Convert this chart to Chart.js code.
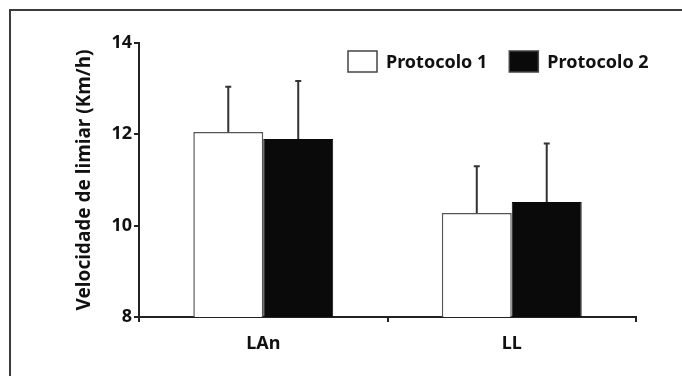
<!DOCTYPE html>
<html>
<head>
<meta charset="utf-8">
<script src="https://cdn.jsdelivr.net/npm/chart.js@4/dist/chart.umd.min.js"></script>
<style>
  html, body { margin: 0; padding: 0; background: #fff; overflow: hidden; }
  #wrap { position: relative; width: 682px; height: 376px; }
  #moldura {
    position: absolute; left: 9px; top: 9px; width: 700px; height: 400px;
    border-left: 2px solid #3c3c3c; border-top: 2px solid #3c3c3c;
    pointer-events: none;
  }
</style>
</head>
<body>
<div id="wrap">
  <canvas id="grafico" width="682" height="376"></canvas>
  <div id="moldura"></div>
</div>
<script>
  const categorias = ["LAn", "LL"];
  const protocolo1 = [12.05, 10.28];
  const protocolo2 = [11.90, 10.52];
  const dp1 = [0.99, 1.02];
  const dp2 = [1.27, 1.28];
  const ticksY = [8, 10, 12, 14];

  const fonte = "'Noto Sans', 'Open Sans', sans-serif";

  // barras de erro (so para cima)
  const barrasErro = {
    id: "barrasErro",
    afterDatasetsDraw(chart) {
      const ctx = chart.ctx;
      const y = chart.scales.y;
      chart.data.datasets.forEach((ds, i) => {
        const meta = chart.getDatasetMeta(i);
        meta.data.forEach((bar, j) => {
          const topo = y.getPixelForValue(ds.data[j] + ds.erros[j]);
          ctx.save();
          ctx.strokeStyle = "#333";
          ctx.lineWidth = 2;
          ctx.beginPath();
          ctx.moveTo(bar.x, bar.y);
          ctx.lineTo(bar.x, topo);
          ctx.moveTo(bar.x - 3, topo);
          ctx.lineTo(bar.x + 3, topo);
          ctx.stroke();
          ctx.restore();
        });
      });
    }
  };

  // legenda desenhada a mao
  const legenda = {
    id: "legenda",
    afterDraw(chart) {
      const ctx = chart.ctx;
      ctx.save();
      ctx.font = "bold 18px " + fonte;
      ctx.textBaseline = "middle";
      let x = 348;
      const yTopo = 51, alt = 21, larg = 29;
      chart.data.datasets.forEach(ds => {
        ctx.fillStyle = ds.backgroundColor;
        ctx.fillRect(x, yTopo, larg, alt);
        ctx.strokeStyle = "#444";
        ctx.lineWidth = 1.5;
        ctx.strokeRect(x, yTopo, larg, alt);
        ctx.fillStyle = "#111";
        ctx.fillText(ds.label, x + larg + 9, yTopo + alt / 2 + 1);
        x += larg + 9 + ctx.measureText(ds.label).width + 22;
      });
      ctx.restore();
    }
  };

  new Chart(document.getElementById("grafico").getContext("2d"), {
    type: "bar",
    data: {
      labels: categorias,
      datasets: [
        {
          label: "Protocolo 1",
          data: protocolo1,
          erros: dp1,
          backgroundColor: "#ffffff",
          borderColor: "#555",
          borderWidth: 1.5
        },
        {
          label: "Protocolo 2",
          data: protocolo2,
          erros: dp2,
          backgroundColor: "#0a0a0a",
          borderColor: "#0a0a0a",
          borderWidth: 1
        }
      ]
    },
    options: {
      responsive: false,
      animation: false,
      layout: { padding: { left: 70, top: 43, right: 46, bottom: 0 } },
      datasets: { bar: { barPercentage: 1, categoryPercentage: 0.563 } },
      plugins: {
        legend: { display: false },
        tooltip: { enabled: false }
      },
      scales: {
        x: {
          afterFit: (s) => { s.height = 59; },
          grid: {
            offset: true, drawOnChartArea: false, tickLength: 5, lineWidth: 2,
            color: (c) => (c.index === categorias.length ? "rgba(0,0,0,0)" : "#222")
          },
          border: { display: true, color: "#222", width: 2 },
          ticks: { color: "#111", padding: 11, font: { family: fonte, size: 18, weight: "bold" } }
        },
        y: {
          min: 8,
          max: 14,
          afterFit: (s) => { s.width = 69; },
          afterBuildTicks: (s) => { s.ticks = ticksY.map(v => ({ value: v })); },
          grid: { drawOnChartArea: false, tickLength: 5, color: "#222", lineWidth: 2 },
          border: { display: true, color: "#222", width: 2 },
          ticks: { color: "#111", padding: 2, font: { family: fonte, size: 18, weight: "bold" } },
          title: {
            display: true,
            text: "Velocidade de limiar (Km/h)",
            color: "#111",
            padding: { top: 3, bottom: 0 },
            font: { family: fonte, size: 19, weight: "bold" }
          }
        }
      }
    },
    plugins: [barrasErro, legenda]
  });
</script>
</body>
</html>
